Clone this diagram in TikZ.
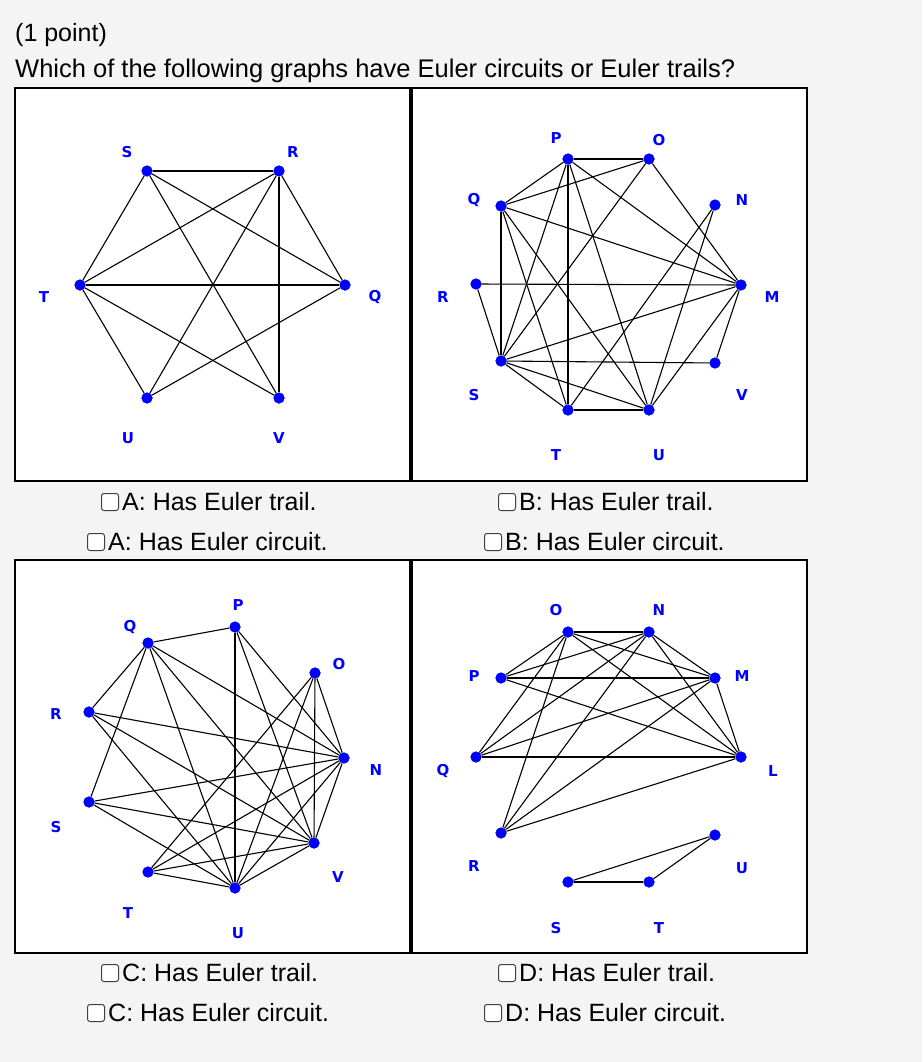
\documentclass[tikz,border=0pt]{standalone}
\usepackage{fontspec}
\setmainfont{Liberation Sans}
\setsansfont{DejaVu Sans}
\definecolor{pagegray}{HTML}{F4F4F4}
\definecolor{vblue}{HTML}{0000FF}
\tikzset{
  vert/.style={circle,fill=vblue,inner sep=0pt,minimum size=11pt},
  vlab/.style={text=vblue,font=\sffamily\bfseries\fontsize{15}{16}\selectfont,inner sep=0pt},
  edge/.style={draw=black,line width=1.1pt},
  panel/.style={draw=black,line width=1.6pt,fill=white},
  cbox/.style={draw=black!75,rounded corners=2.5pt,line width=1pt,minimum size=17pt,inner sep=0pt,fill=white},
  answer/.style={anchor=west,font=\fontsize{25}{29}\selectfont,inner sep=0pt}
}
\begin{document}
\begin{tikzpicture}[x=1pt,y=-1pt]
  \fill[pagegray] (0,0) rectangle (922,1062);
  \useasboundingbox (0,0) rectangle (922,1062);
  % heading
  \node[answer] (hd1) at (15,35) {(1 point)};
  \node[answer,font=\fontsize{25.5}{29}\selectfont] (hd2) at (15,71) {Which of the following graphs have Euler circuits or Euler trails?};
  % panels
  \draw[panel] (15,88) rectangle (410,481);
  \draw[panel] (412,88) rectangle (807,481);
  \draw[panel] (15,560) rectangle (410,953);
  \draw[panel] (412,560) rectangle (807,953);

  % graph A
  \foreach \n/\x/\y/\lx/\ly in {S/147/171/127/152, R/279/171/293/152, Q/345/285/375/297,
      V/279/398/279/438, U/147/398/128/438, T/80/285/44/297}{
    \node[vert] (a\n) at (\x,\y) {};
    \node[vlab] (la\n) at (\lx,\ly) {\n};
  }
  \foreach \u/\v in {S/R,S/T,S/Q,S/V,R/T,R/U,R/V,R/Q,T/Q,T/U,T/V,Q/U}
    \draw[edge] (a\u) -- (a\v);

  % graph B
  \foreach \n/\x/\y/\lx/\ly in {P/568/159/556/138, O/649/159/659/140, N/715/205/742/200,
      M/741/285/772/297, V/715/363/742/395, U/649/410/659/455, T/568/410/556/455,
      S/501/361/474/395, R/476/284/443/297, Q/501/206/474/200}{
    \node[vert] (b\n) at (\x,\y) {};
    \node[vlab] (lb\n) at (\lx,\ly) {\n};
  }
  \foreach \u/\v in {P/O,P/Q,P/S,P/T,P/U,P/M,O/Q,O/M,O/S,N/T,N/U,Q/S,Q/M,Q/T,Q/U,
      R/M,R/S,S/M,S/V,S/T,S/U,T/U,M/V,M/U}
    \draw[edge] (b\u) -- (b\v);

  % graph C
  \foreach \n/\x/\y/\lx/\ly in {P/235/627/238/605, Q/148/643/130/627, O/315/673/339/664,
      R/89/712/56/714, N/344/758/376/770, S/89/802/56/827, V/314/843/338/877,
      T/148/872/128/913, U/235/888/238/933}{
    \node[vert] (c\n) at (\x,\y) {};
    \node[vlab] (lc\n) at (\lx,\ly) {\n};
  }
  \foreach \u/\v in {Q/P,Q/R,Q/S,Q/U,Q/V,Q/N,P/U,P/V,P/N,O/V,O/N,O/T,O/U,
      R/N,R/V,R/U,S/N,S/V,S/U,N/T,N/U,N/V,T/V,T/U,U/V}
    \draw[edge] (c\u) -- (c\v);

  % graph D
  \foreach \n/\x/\y/\lx/\ly in {O/568/632/556/610, N/649/632/659/610, M/715/678/742/676,
      L/741/757/773/771, U/715/835/742/868, T/649/882/659/928, S/568/882/556/928,
      R/501/833/474/866, Q/476/757/443/771, P/501/678/474/676}{
    \node[vert] (d\n) at (\x,\y) {};
    \node[vlab] (ld\n) at (\lx,\ly) {\n};
  }
  \foreach \u/\v in {O/N,O/P,O/Q,O/R,O/M,O/L,N/P,N/Q,N/R,N/M,N/L,P/M,P/L,
      Q/M,Q/L,R/M,R/L,M/L,S/T,S/U,T/U}
    \draw[edge] (d\u) -- (d\v);
  % redraw dots on top
  \foreach \g/\list in {a/{S,R,Q,V,U,T}, b/{P,O,N,M,V,U,T,S,R,Q},
      c/{P,Q,O,R,N,S,V,T,U}, d/{O,N,M,L,U,T,S,R,Q,P}}
    \foreach \n in \list
      \fill[vblue] (\g\n) circle (5.5pt);

  % answers
  \foreach \id/\x/\y/\txt in {aT/110/502/{A: Has Euler trail.}, aC/96/542/{A: Has Euler circuit.},
      bT/507/502/{B: Has Euler trail.}, bC/493/542/{B: Has Euler circuit.},
      cT/110/973/{C: Has Euler trail.}, cC/96/1013/{C: Has Euler circuit.},
      dT/507/973/{D: Has Euler trail.}, dC/493/1013/{D: Has Euler circuit.}}{
    \node[cbox] (box\id) at (\x,\y) {};
    \node[answer] (txt\id) at (\x+12,\y) {\txt};
  }
\end{tikzpicture}
\end{document}
